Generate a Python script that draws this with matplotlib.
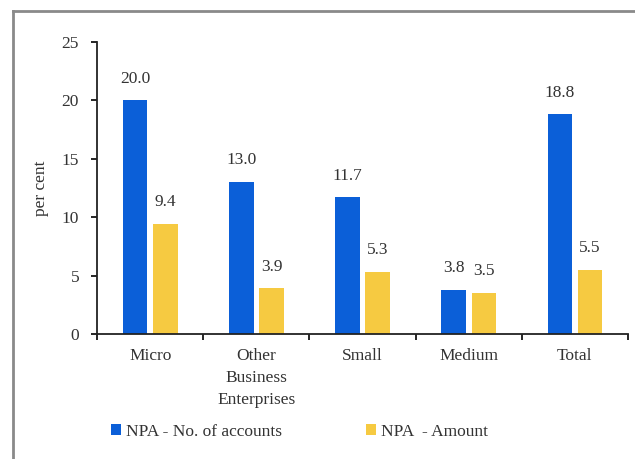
import matplotlib.pyplot as plt
from matplotlib.lines import Line2D
import numpy as np

plt.rcParams['font.family'] = ['Liberation Serif', 'DejaVu Serif']

categories = ["Micro", "Other\nBusiness\nEnterprises", "Small", "Medium", "Total"]
npa_accounts = [20.0, 13.0, 11.7, 3.8, 18.8]
npa_amount = [9.4, 3.9, 5.3, 3.5, 5.5]

blue = "#0b5fd8"
yellow = "#f6ca41"
txt = "#333333"
fs = 12.5

fig = plt.figure(figsize=(6.35, 4.59), dpi=100)
ax = fig.add_axes([0.153, 0.2723, 0.836, 0.636])

x = np.arange(len(categories))
w = 0.23
off = 0.142
b1 = ax.bar(x - off, npa_accounts, w, color=blue, label="NPA - No. of accounts")
b2 = ax.bar(x + off, npa_amount, w, color=yellow, label="NPA  - Amount")

for bars, vals in ((b1, npa_accounts), (b2, npa_amount)):
    for r, v in zip(bars, vals):
        ax.annotate(f"{v:.1f}", (r.get_x() + r.get_width() / 2, v),
                    xytext=(0, 10), textcoords="offset points",
                    ha="center", va="bottom", fontsize=fs, color=txt)

ax.set_xlim(-0.5, len(categories) - 0.5)
ax.set_ylim(0, 25)
ax.set_yticks([0, 5, 10, 15, 20, 25])
ax.set_xticks(np.arange(len(categories) + 1) - 0.5)
ax.set_xticklabels([])
ax.set_xticks(x, minor=True)
ax.set_xticklabels(categories, minor=True, fontsize=fs, color=txt, linespacing=1.52)
ax.tick_params(axis="x", which="minor", length=0, pad=10)
ax.tick_params(axis="x", which="major", length=4, width=1.2, direction="out")
ax.tick_params(axis="y", length=4, width=1.2, labelsize=fs, labelcolor=txt, pad=9)

for s in ("top", "right"):
    ax.spines[s].set_visible(False)
for s in ("left", "bottom"):
    ax.spines[s].set_linewidth(1.3)
    ax.spines[s].set_color("#222222")

ax.set_ylabel("per cent", fontsize=fs, color=txt, labelpad=9)

ax.legend(loc="upper left", bbox_to_anchor=(0.0, -0.26), ncol=2, frameon=False,
          fontsize=fs, handlelength=0.55, handleheight=0.55, handletextpad=0.3,
          columnspacing=4.85, labelcolor=txt, borderpad=0.3)

# outer frame
fig.add_artist(Line2D([0.021, 0.021], [0.0, 0.976], color="#8a8a8a", lw=2, transform=fig.transFigure))
fig.add_artist(Line2D([0.021, 1.0], [0.976, 0.976], color="#8a8a8a", lw=2, transform=fig.transFigure))

fig.savefig("out.png", dpi=100)
